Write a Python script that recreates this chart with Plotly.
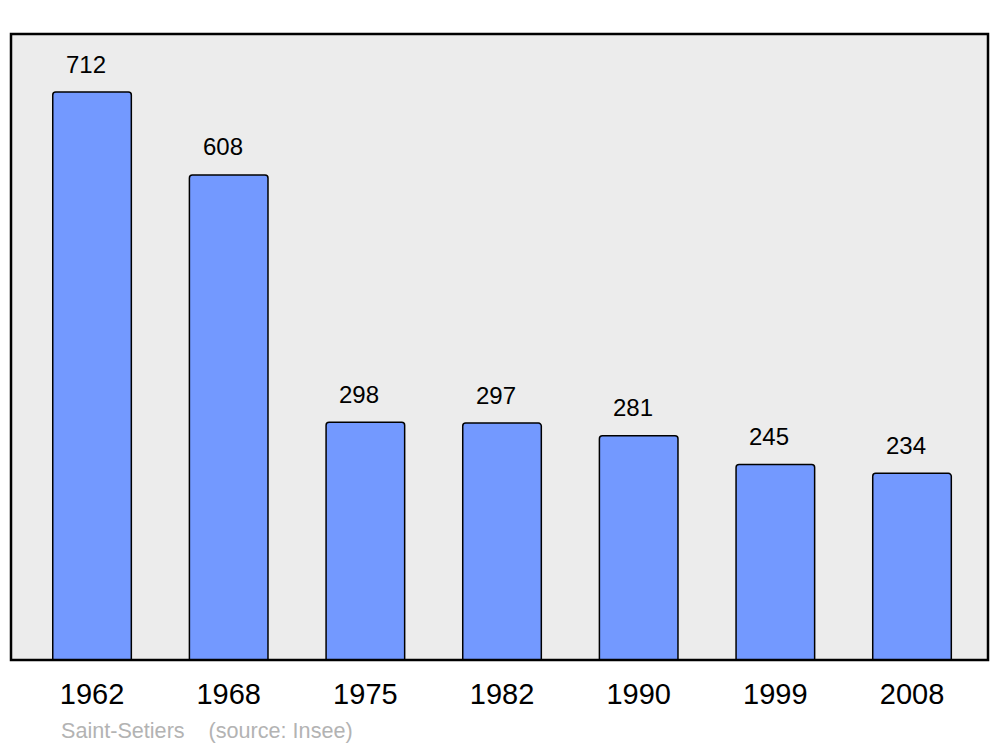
import plotly.graph_objects as go

years = ["1962", "1968", "1975", "1982", "1990", "1999", "2008"]
population = [712, 608, 298, 297, 281, 245, 234]

fig = go.Figure()
fig.add_trace(go.Bar(
    x=list(range(len(years))), y=population,
    width=0.575,
    marker=dict(color="#7399ff", line=dict(color="#000000", width=1.5), cornerradius=3),
    hoverinfo="skip",
))

for i, v in enumerate(population):
    fig.add_annotation(x=i, y=v, text=str(v), showarrow=False, xref="x", yref="y",
                       yanchor="middle", yshift=28, xshift=-6,
                       font=dict(family="Liberation Sans, Arial, sans-serif", size=24, color="#000000"))

fig.add_annotation(xref="paper", yref="paper", x=(59 - 11) / 977, y=-(730 - 660) / 626,
                   xanchor="left", yanchor="middle", showarrow=False,
                   text="Saint-Setiers&nbsp;&nbsp;&nbsp;&nbsp;(source: Insee)",
                   font=dict(family="Liberation Sans, Arial, sans-serif", size=21.6, color="#b3b3b3"))

fig.add_shape(type="rect", xref="paper", yref="paper", x0=0, x1=1, y0=0, y1=1,
              line=dict(color="#000000", width=2.5), layer="above")

fig.update_layout(
    width=1000, height=747,
    margin=dict(l=11, r=12, t=34, b=87),
    paper_bgcolor="#ffffff", plot_bgcolor="#ececec",
    showlegend=False,
    xaxis=dict(range=[-0.593, 6.556], tickmode="array", tickvals=list(range(len(years))),
               ticktext=years, showgrid=False, zeroline=False, ticks="", showline=False,
               tickfont=dict(family="Liberation Sans, Arial, sans-serif", size=29, color="#000000"),
               ticklabelstandoff=14),
    yaxis=dict(range=[0, 784.7], showgrid=False, zeroline=False, showticklabels=False,
               ticks="", showline=False),
)

fig.write_html("out.html", config={"displayModeBar": False},
               post_script="document.body.style.margin='0';")
